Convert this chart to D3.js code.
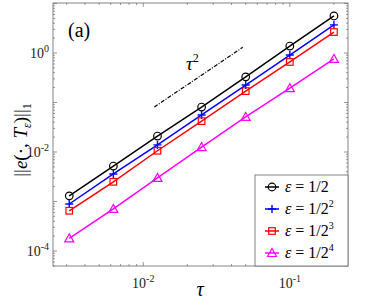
<!DOCTYPE html>
<html>
<head>
<meta charset="utf-8">
<script src="https://cdn.jsdelivr.net/npm/d3@7"></script>
<style>
  body { margin: 0; background: #fff; }
</style>
</head>
<body>
<svg id="chart" width="382" height="300" font-family="Liberation Serif"></svg>
<script>
"use strict";

// time steps tau
var tau = [0.003125, 0.00625, 0.0125, 0.025, 0.05, 0.1, 0.2];

// L1 errors for each epsilon
var errEps1 = [0.0013, 0.0052, 0.021, 0.081, 0.33, 1.38, 5.6];
var errEps2 = [0.00089, 0.0036, 0.0139, 0.056, 0.225, 0.91, 3.7];
var errEps3 = [0.00065, 0.0025, 0.0106, 0.042, 0.17, 0.66, 2.65];
var errEps4 = [0.00018, 0.00071, 0.0030, 0.0126, 0.051, 0.195, 0.76];

// reference slope line tau^2
var refX = [0.0119, 0.0477];
var refY = [0.081, 1.30];

var xTickVals = [0.01, 0.1];
var yTickVals = [1e-4, 1e-2, 1];

var series = [
  { name: "1/2", sup: "", values: errEps1, color: "#000000", marker: "circle" },
  { name: "1/2", sup: "2", values: errEps2, color: "#0000ff", marker: "plus" },
  { name: "1/2", sup: "3", values: errEps3, color: "#ff0000", marker: "square" },
  { name: "1/2", sup: "4", values: errEps4, color: "#ff00ff", marker: "triangle" }
];

var svg = d3.select("#chart");
var pLeft = 53, pRight = 348, pTop = 3, pBottom = 266;

var x = d3.scaleLog().domain([Math.pow(10, -2.616), Math.pow(10, -0.603)]).range([pLeft, pRight]);
var y = d3.scaleLog().domain([Math.pow(10, -4.303), Math.pow(10, 1.01)]).range([pBottom, pTop]);

// minor + major ticks (inward, on all 4 sides)
function logTicks(scale) {
  var d = scale.domain();
  var lo = Math.floor(Math.log10(d[0])), hi = Math.ceil(Math.log10(d[1]));
  var out = [];
  for (var e = lo; e <= hi; e++) {
    for (var m = 1; m < 10; m++) {
      var v = m * Math.pow(10, e);
      if (v >= d[0] && v <= d[1]) out.push({ v: v, major: m == 1 });
    }
  }
  return out;
}

var axisG = svg.append("g").attr("stroke", "#555").attr("stroke-width", 0.6);

logTicks(x).forEach(function (t) {
  var px = x(t.v), len = t.major ? 4 : 2;
  axisG.append("line").attr("x1", px).attr("x2", px).attr("y1", pBottom).attr("y2", pBottom - len);
  axisG.append("line").attr("x1", px).attr("x2", px).attr("y1", pTop).attr("y2", pTop + len);
});
logTicks(y).forEach(function (t) {
  var py = y(t.v), len = t.major ? 4 : 2;
  axisG.append("line").attr("x1", pLeft).attr("x2", pLeft + len).attr("y1", py).attr("y2", py);
  axisG.append("line").attr("x1", pRight).attr("x2", pRight - len).attr("y1", py).attr("y2", py);
});

svg.append("rect")
  .attr("x", pLeft).attr("y", pTop)
  .attr("width", pRight - pLeft).attr("height", pBottom - pTop)
  .attr("fill", "none").attr("stroke", "#666").attr("stroke-width", 0.8);

// tick labels
function powLabel(g, v) {
  var e = Math.round(Math.log10(v));
  g.append("tspan").text("10");
  g.append("tspan").attr("dy", -6).attr("font-size", 10).text(e);
}

xTickVals.forEach(function (v) {
  var t = svg.append("text").attr("x", x(v)).attr("y", 288)
    .attr("text-anchor", "middle").attr("font-size", 14).attr("fill", "#222");
  powLabel(t, v);
});
yTickVals.forEach(function (v) {
  var t = svg.append("text").attr("x", 49).attr("y", y(v) + 5)
    .attr("text-anchor", "end").attr("font-size", 14).attr("fill", "#222");
  powLabel(t, v);
});

// axis labels
svg.append("text").attr("x", 200).attr("y", 296).attr("text-anchor", "middle")
  .attr("font-size", 20).attr("font-style", "italic").text("τ");

var yl = svg.append("text").attr("transform", "translate(27,140) rotate(-90)")
  .attr("text-anchor", "middle").attr("font-size", 19);
yl.append("tspan").text("||");
yl.append("tspan").attr("font-style", "italic").text("e");
yl.append("tspan").text("(·, ");
yl.append("tspan").attr("font-style", "italic").text("T");
yl.append("tspan").attr("font-style", "italic").attr("font-size", 12).attr("dy", 4).text("ε");
yl.append("tspan").attr("dy", -4).text(")||");
yl.append("tspan").attr("font-size", 12).attr("dy", 4).text("1");

// panel tag
svg.append("text").attr("x", 68).attr("y", 37).attr("font-size", 20).text("(a)");

// reference line
var line = d3.line().x(function (d) { return x(d[0]); }).y(function (d) { return y(d[1]); });
svg.append("path").datum(d3.zip(refX, refY)).attr("d", line)
  .attr("fill", "none").attr("stroke", "#000").attr("stroke-width", 1.2)
  .attr("stroke-dasharray", "4,1.5,1,1.5");
var rl = svg.append("text").attr("x", 186).attr("y", 70).attr("font-size", 19);
rl.append("tspan").attr("font-style", "italic").text("τ");
rl.append("tspan").attr("dy", -8).attr("font-size", 12).text("2");

// markers
function drawMarker(g, kind, cx, cy, color) {
  if (kind == "plus") {
    g.append("path").attr("d", "M" + (cx - 4) + "," + cy + "H" + (cx + 4) + "M" + cx + "," + (cy - 4) + "V" + (cy + 4))
      .attr("stroke", color).attr("stroke-width", 1.4).attr("fill", "none");
  } else if (kind == "triangle") {
    g.append("path").attr("d", "M" + cx + "," + (cy - 4.5) + "L" + (cx + 4.5) + "," + (cy + 3.5) + "L" + (cx - 4.5) + "," + (cy + 3.5) + "Z")
      .attr("stroke", color).attr("stroke-width", 1.2).attr("fill", "none");
  } else if (kind == "square") {
    g.append("rect").attr("x", cx - 3.3).attr("y", cy - 3.3).attr("width", 6.6).attr("height", 6.6)
      .attr("stroke", color).attr("stroke-width", 1.2).attr("fill", "none");
  } else {
    g.append("circle").attr("cx", cx).attr("cy", cy).attr("r", 3.8)
      .attr("stroke", color).attr("stroke-width", 1.2).attr("fill", "none");
  }
}

series.forEach(function (s) {
  var pts = d3.zip(tau, s.values);
  var g = svg.append("g");
  g.append("path").datum(pts).attr("d", line)
    .attr("fill", "none").attr("stroke", s.color).attr("stroke-width", 1.5);
  pts.forEach(function (p) { drawMarker(g, s.marker, x(p[0]), y(p[1]), s.color); });
});

// legend
var lx = 255, ly = 175, lw = pRight - lx, lh = pBottom - ly;
svg.append("rect").attr("x", lx).attr("y", ly).attr("width", lw).attr("height", lh)
  .attr("fill", "#fff").attr("stroke", "#666").attr("stroke-width", 0.8);
series.forEach(function (s, i) {
  var cy = 187 + i * 22;
  var g = svg.append("g");
  g.append("line").attr("x1", lx + 10).attr("x2", lx + 24).attr("y1", cy).attr("y2", cy)
    .attr("stroke", s.color).attr("stroke-width", 1.5);
  drawMarker(g, s.marker, lx + 17, cy, s.color);
  var t = svg.append("text").attr("x", lx + 30).attr("y", cy + 5).attr("font-size", 16);
  t.append("tspan").attr("font-style", "italic").text("ε");
  t.append("tspan").text(" = " + s.name);
  if (s.sup) t.append("tspan").attr("dy", -7).attr("font-size", 10).text(s.sup);
});
</script>
</body>
</html>
